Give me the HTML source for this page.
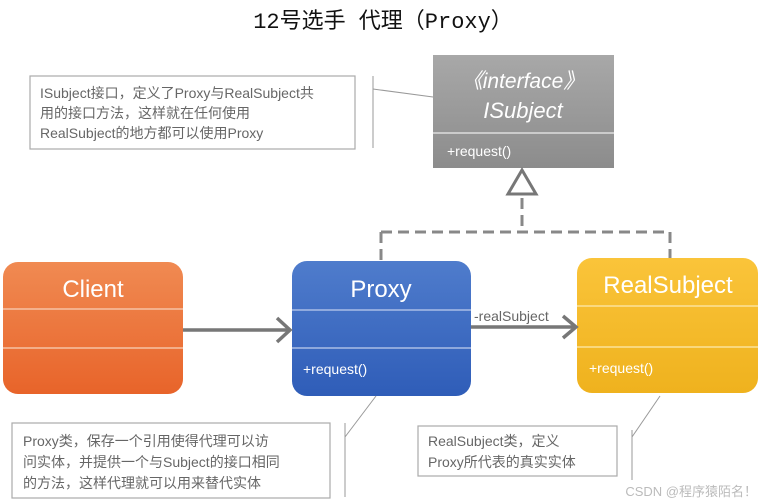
<!DOCTYPE html>
<html><head><meta charset="utf-8"><style>
html,body{margin:0;padding:0;background:#fff;}
svg{display:block;}
text{font-family:"Liberation Sans","Noto Sans CJK SC",sans-serif;}
</style></head><body>
<svg width="765" height="504" viewBox="0 0 765 504" xmlns="http://www.w3.org/2000/svg">
<defs>
<linearGradient id="gO" x1="0" y1="0" x2="0" y2="1"><stop offset="0" stop-color="#f08a52"/><stop offset="1" stop-color="#e8642a"/></linearGradient>
<linearGradient id="gB" x1="0" y1="0" x2="0" y2="1"><stop offset="0" stop-color="#4f7ccc"/><stop offset="1" stop-color="#2f5db8"/></linearGradient>
<linearGradient id="gY" x1="0" y1="0" x2="0" y2="1"><stop offset="0" stop-color="#fac43a"/><stop offset="1" stop-color="#efb21e"/></linearGradient>
<linearGradient id="gG" x1="0" y1="0" x2="0" y2="1"><stop offset="0" stop-color="#a8a8a8"/><stop offset="1" stop-color="#8c8c8c"/></linearGradient>
</defs>
<text x="383" y="28" text-anchor="middle" font-size="22" style="font-family:'Liberation Mono','Noto Sans CJK SC',monospace" fill="#111">12号选手  代理（Proxy）</text>

<!-- ISubject -->
<rect x="433" y="55" width="181" height="113" fill="url(#gG)"/>
<line x1="433" y1="133" x2="614" y2="133" stroke="#ddd" stroke-width="1.5"/>
<text x="523" y="88" text-anchor="middle" font-size="21" font-style="italic" fill="#fff">《interface》</text>
<text x="523" y="118" text-anchor="middle" font-size="22" font-style="italic" fill="#fff">ISubject</text>
<text x="447" y="156" font-size="14" fill="#fff">+request()</text>

<!-- note 1 -->
<rect x="30" y="76" width="325" height="73" fill="#fff" stroke="#aaa" stroke-width="1.2"/>
<line x1="373" y1="76" x2="373" y2="148" stroke="#999"/>
<line x1="373" y1="89" x2="433" y2="97" stroke="#999"/>
<text font-size="14" fill="#666"><tspan x="40" y="98">ISubject接口，定义了Proxy与RealSubject共</tspan><tspan x="40" y="118">用的接口方法，这样就在任何使用</tspan><tspan x="40" y="138">RealSubject的地方都可以使用Proxy</tspan></text>

<!-- triangle + dashed -->
<polygon points="522,170 508,194 536,194" fill="#fff" stroke="#777" stroke-width="3"/>
<g stroke="#888" stroke-width="3" stroke-dasharray="11,6" fill="none">
<line x1="522" y1="198" x2="522" y2="232"/>
<line x1="381" y1="232" x2="670" y2="232"/>
<line x1="381" y1="232" x2="381" y2="262"/>
<line x1="670" y1="232" x2="670" y2="258"/>
</g>

<!-- Client -->
<rect x="3" y="262" width="180" height="132" rx="15" fill="url(#gO)"/>
<line x1="3" y1="309" x2="183" y2="309" stroke="#f6c2a4" stroke-width="1.5"/>
<line x1="3" y1="348" x2="183" y2="348" stroke="#f6c2a4" stroke-width="1.5"/>
<text x="93" y="297" text-anchor="middle" font-size="24" fill="#fff">Client</text>

<!-- Proxy -->
<rect x="292" y="261" width="179" height="135" rx="15" fill="url(#gB)"/>
<line x1="292" y1="310" x2="471" y2="310" stroke="#a9bde6" stroke-width="1.5"/>
<line x1="292" y1="348" x2="471" y2="348" stroke="#a9bde6" stroke-width="1.5"/>
<text x="381" y="297" text-anchor="middle" font-size="24" fill="#fff">Proxy</text>
<text x="303" y="374" font-size="14" fill="#fff">+request()</text>

<!-- RealSubject -->
<rect x="577" y="258" width="181" height="135" rx="15" fill="url(#gY)"/>
<line x1="577" y1="306" x2="758" y2="306" stroke="#fbe29a" stroke-width="1.5"/>
<line x1="577" y1="347" x2="758" y2="347" stroke="#fbe29a" stroke-width="1.5"/>
<text x="668" y="293" text-anchor="middle" font-size="24" fill="#fff">RealSubject</text>
<text x="589" y="373" font-size="14" fill="#fff">+request()</text>

<!-- arrows -->
<g stroke="#777" stroke-width="3.5" fill="none">
<line x1="183" y1="330" x2="289" y2="330"/>
<polyline points="277,318 290,330 277,342"/>
<line x1="471" y1="327" x2="575" y2="327"/>
<polyline points="563,316 576,327 563,338"/>
</g>
<text x="474" y="321" font-size="14" fill="#666">-realSubject</text>

<!-- note proxy -->
<rect x="12" y="423" width="318" height="75" fill="#fff" stroke="#aaa" stroke-width="1.2"/>
<line x1="345" y1="423" x2="345" y2="497" stroke="#999"/>
<line x1="376" y1="396" x2="345" y2="437" stroke="#999"/>
<text font-size="14" fill="#666"><tspan x="23" y="446">Proxy类，保存一个引用使得代理可以访</tspan><tspan x="23" y="467">问实体，并提供一个与Subject的接口相同</tspan><tspan x="23" y="488">的方法，这样代理就可以用来替代实体</tspan></text>

<!-- note realsubject -->
<rect x="418" y="426" width="199" height="50" fill="#fff" stroke="#aaa" stroke-width="1.2"/>
<line x1="632" y1="430" x2="632" y2="480" stroke="#999"/>
<line x1="660" y1="396" x2="632" y2="437" stroke="#999"/>
<text font-size="14" fill="#666"><tspan x="428" y="446">RealSubject类，定义</tspan><tspan x="428" y="467">Proxy所代表的真实实体</tspan></text>

<text x="757" y="496" text-anchor="end" font-size="13" fill="#bbb">CSDN @程序猿陌名！</text>
</svg>
</body></html>
